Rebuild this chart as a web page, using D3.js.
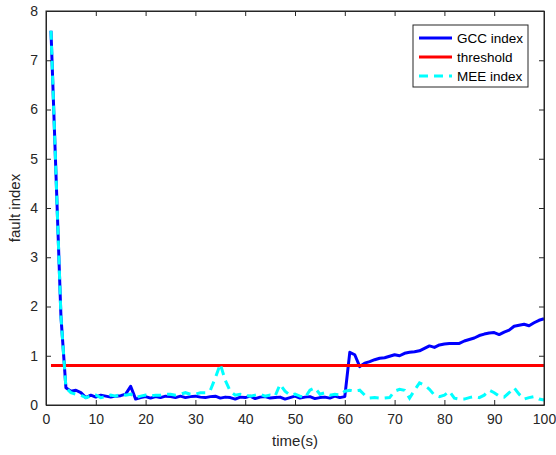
<!DOCTYPE html>
<html><head><meta charset="utf-8">
<script src="https://cdn.jsdelivr.net/npm/d3@7"></script>
<style>body{margin:0;background:#fff}svg{display:block}text{font-family:Arial,"Liberation Sans",sans-serif}</style>
</head><body><svg id="c" width="556" height="455"></svg>
<script>
const time = d3.range(1, 101);
const gccIndex = [7.6,4.7,1.8,0.35,0.28,0.3,0.25,0.15,0.2,0.16,
0.2,0.18,0.16,0.18,0.19,0.22,0.38,0.12,0.15,0.17,
0.14,0.17,0.15,0.18,0.17,0.15,0.18,0.15,0.17,0.18,
0.16,0.15,0.17,0.18,0.14,0.16,0.15,0.12,0.16,0.15,
0.18,0.13,0.16,0.17,0.14,0.15,0.16,0.12,0.15,0.18,
0.14,0.16,0.17,0.13,0.15,0.16,0.14,0.18,0.15,0.17,
1.07,1.02,0.78,0.85,0.88,0.92,0.95,0.96,0.99,1.02,
1.0,1.05,1.07,1.08,1.1,1.15,1.2,1.17,1.22,1.24,
1.25,1.25,1.25,1.3,1.33,1.36,1.41,1.44,1.46,1.47,
1.43,1.48,1.52,1.6,1.62,1.64,1.61,1.67,1.72,1.75];
const meeIndex = [7.6,4.7,1.8,0.35,0.25,0.22,0.2,0.15,0.18,0.2,
0.15,0.17,0.2,0.18,0.22,0.2,0.22,0.15,0.18,0.2,
0.18,0.2,0.2,0.22,0.22,0.2,0.22,0.25,0.22,0.22,
0.25,0.25,0.3,0.55,0.83,0.5,0.28,0.2,0.22,0.2,
0.18,0.2,0.22,0.18,0.2,0.18,0.42,0.28,0.2,0.22,
0.18,0.15,0.3,0.35,0.22,0.25,0.2,0.22,0.2,0.28,
0.3,0.28,0.3,0.2,0.14,0.15,0.14,0.14,0.15,0.28,
0.32,0.3,0.14,0.3,0.45,0.4,0.32,0.2,0.17,0.2,
0.28,0.14,0.12,0.12,0.15,0.17,0.15,0.2,0.3,0.25,
0.18,0.16,0.25,0.35,0.22,0.12,0.15,0.17,0.12,0.1];
const thresholdValue = 0.8;
const thresholdX = [1, 100];
const xTicks = [0,10,20,30,40,50,60,70,80,90,100];
const yTicks = [0,1,2,3,4,5,6,7,8];
const legendLabels = ["GCC index","threshold","MEE index"];

const svg = d3.select("#c");
const L=46, R=544, T=11, B=405;
const x = d3.scaleLinear().domain([0,100]).range([L,R]);
const y = d3.scaleLinear().domain([0,8]).range([B,T]);
const ax = "#262626";

const g = svg.append("g");
const line = d3.line().x((d,i)=>x(time[i])).y(d=>y(d));
g.append("path").datum(gccIndex).attr("d",line).attr("fill","none")
 .attr("stroke","#0000ff").attr("stroke-width",3).attr("stroke-linejoin","round");
g.append("path").datum(thresholdX).attr("d",d3.line().x(d=>x(d)).y(()=>y(thresholdValue)))
 .attr("fill","none").attr("stroke","#ff0000").attr("stroke-width",3);
g.append("path").datum(meeIndex).attr("d",line).attr("fill","none")
 .attr("stroke","#00ffff").attr("stroke-width",3).attr("stroke-dasharray","9,6");

const fmt = d3.format("d");
const xb = svg.append("g").attr("transform",`translate(0,${B})`)
 .call(d3.axisBottom(x).tickValues(xTicks).tickFormat(fmt).tickSizeInner(-5).tickSizeOuter(0).tickPadding(9));
const xt = svg.append("g").attr("transform",`translate(0,${T})`)
 .call(d3.axisTop(x).tickValues(xTicks).tickFormat("").tickSizeInner(-5).tickSizeOuter(0));
const yl = svg.append("g").attr("transform",`translate(${L},0)`)
 .call(d3.axisLeft(y).tickValues(yTicks).tickFormat(fmt).tickSizeInner(-5).tickSizeOuter(0).tickPadding(8));
const yr = svg.append("g").attr("transform",`translate(${R},0)`)
 .call(d3.axisRight(y).tickValues(yTicks).tickFormat("").tickSizeInner(-5).tickSizeOuter(0));
[xb,xt,yl,yr].forEach(a=>{
  a.selectAll("path").attr("stroke",ax);
  a.selectAll("line").attr("stroke",ax);
  a.selectAll("text").attr("fill",ax).style("font-size","14px").style("font-family","Arial, 'Liberation Sans', sans-serif");
});
svg.append("rect").attr("x",L).attr("y",T).attr("width",R-L).attr("height",B-T)
 .attr("fill","none").attr("stroke",ax).attr("stroke-width",1);

svg.append("text").attr("x",(L+R)/2).attr("y",446).attr("text-anchor","middle")
 .attr("fill",ax).style("font-size","15px").text("time(s)");
svg.append("text").attr("transform",`translate(20,${(T+B)/2}) rotate(-90)`).attr("text-anchor","middle")
 .attr("fill",ax).style("font-size","15px").text("fault index");

const lg = svg.append("g");
lg.append("rect").attr("x",413).attr("y",25).attr("width",115).attr("height",62)
 .attr("fill","#fff").attr("stroke",ax).attr("stroke-width",1);
const colors = ["#0000ff","#ff0000","#00ffff"];
const dashes = [null,null,"9,6"];
legendLabels.forEach((lab,i)=>{
  const yy = 38 + i*19;
  lg.append("line").attr("x1",419).attr("x2",452).attr("y1",yy).attr("y2",yy)
    .attr("stroke",colors[i]).attr("stroke-width",3).attr("stroke-dasharray",dashes[i]);
  lg.append("text").attr("x",457).attr("y",yy+4.5).attr("fill","#000").style("font-size","13.5px").text(lab);
});
</script></body></html>
